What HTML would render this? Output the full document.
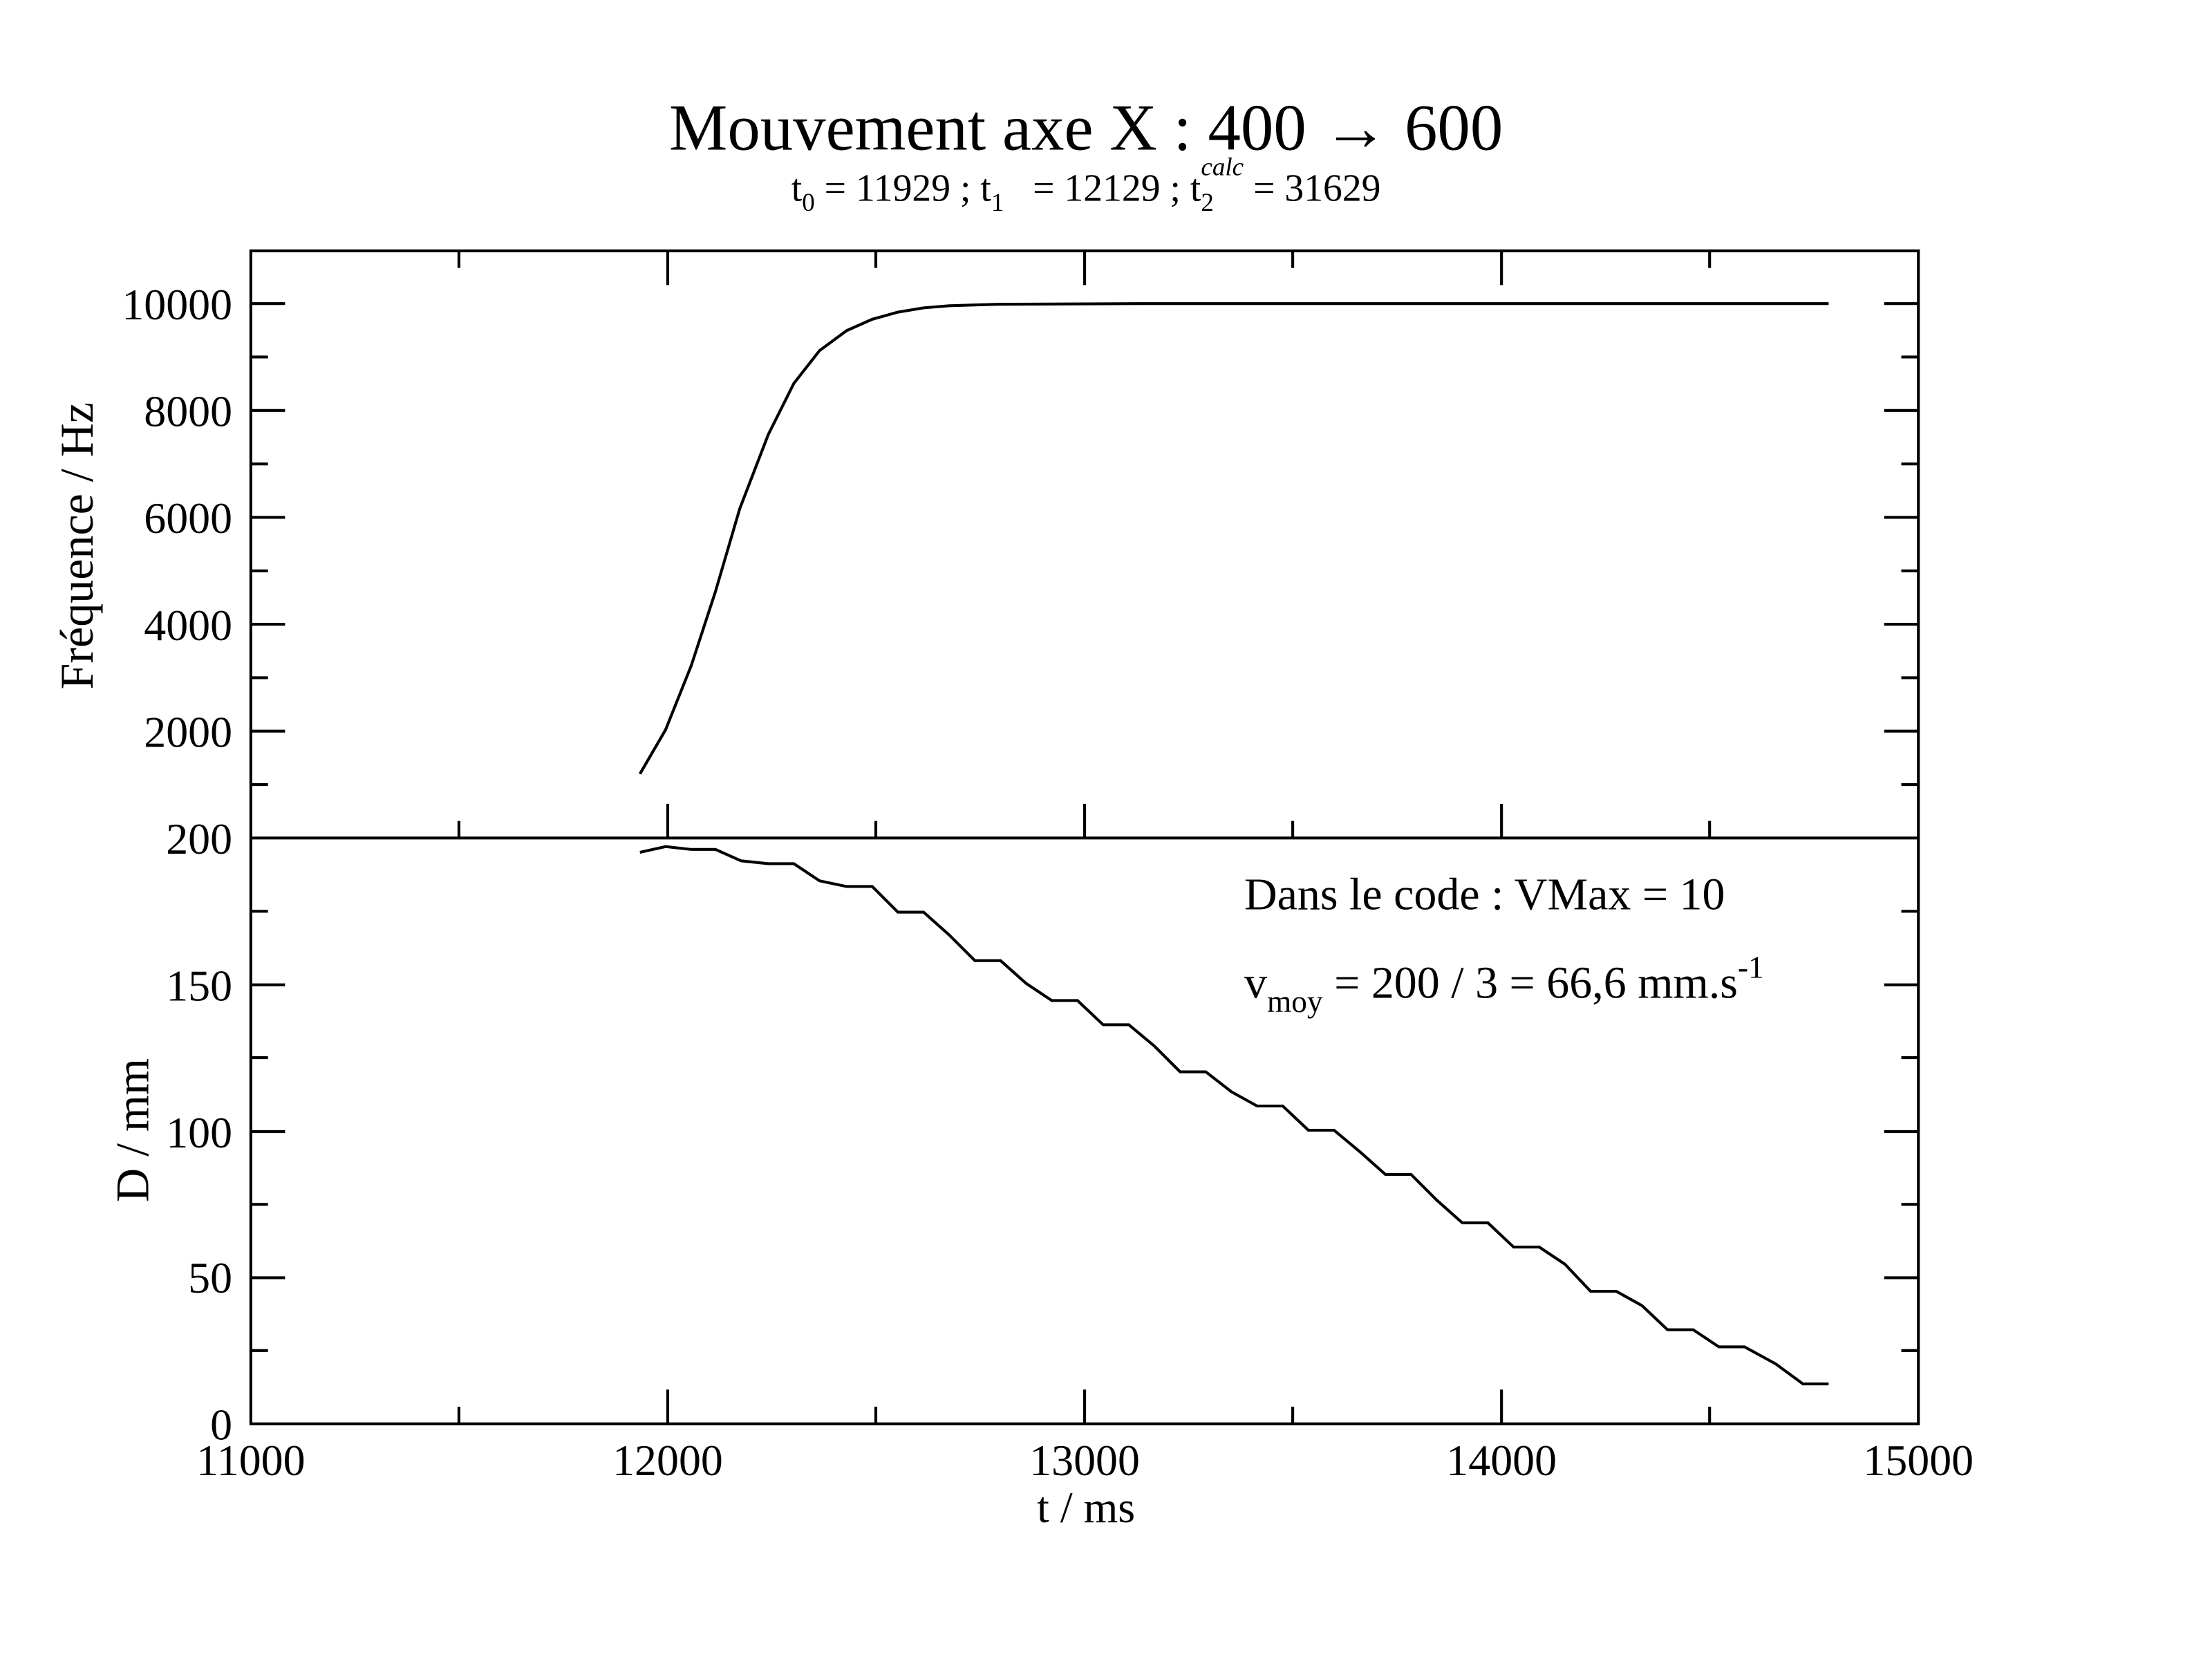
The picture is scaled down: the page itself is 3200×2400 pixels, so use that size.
<!DOCTYPE html>
<html><head><meta charset="utf-8"><style>body{margin:0;background:#fff}svg{display:block}text{font-family:"Liberation Serif",serif;fill:#000}</style></head>
<body>
<svg width="3200" height="2400" viewBox="0 0 1552 1164" xmlns="http://www.w3.org/2000/svg">
<rect width="1552" height="1164" fill="#fff"/>
<g stroke="#000" stroke-width="2" fill="none">
<rect x="176" y="176" width="1170" height="823"/>
<line x1="176" y1="588" x2="1346" y2="588"/>
<path d="M176 213h24M176 288h24M176 363h24M176 438h24M176 513h24M1346 213h-24M1346 288h-24M1346 363h-24M1346 438h-24M1346 513h-24
M176 250.5h12M176 325.5h12M176 400.5h12M176 475.5h12M176 550.5h12M1346 250.5h-12M1346 325.5h-12M1346 400.5h-12M1346 475.5h-12M1346 550.5h-12"/>
<path d="M468.5 176v24M761 176v24M1053.5 176v24M322 176v12M614.5 176v12M907 176v12M1199.5 176v12
M468.5 588v-24M761 588v-24M1053.5 588v-24M322 588v-12M614.5 588v-12M907 588v-12M1199.5 588v-12"/>
<path d="M176 691h24M176 794h24M176 896.5h24M1346 691h-24M1346 794h-24M1346 896.5h-24
M176 639.4h12M176 742.1h12M176 845h12M176 947.6h12M1346 639.4h-12M1346 742.1h-12M1346 845h-12M1346 947.6h-12"/>
<path d="M468.5 999v-24M761 999v-24M1053.5 999v-24M322 999v-12M614.5 999v-12M907 999v-12M1199.5 999v-12"/>
<polyline points="449,543 467,512 485,467 502,415 519,357 539,305 557,269 575,246 594,232 612,224 630,219 648,216 666,214.5 700,213.5 800,213 1283,213"/>
<polyline points="449,598 467,594 485,596 502,596 520,604 539,606 557,606 575,618 594,622 612,622 630,640 648,640 666,656 684,674 702,674 720,690 738,702 756,702 774,719 792,719 810,734 828,752 846,752 864,766 882,776 900,776 918,793 936,793 954,808 972,824 990,824 1008,842 1026,858 1044,858 1062,875 1080,875 1098,887 1116,906 1134,906 1152,916 1170,933 1188,933 1206,945 1224,945 1246,957 1265,971 1283,971"/>
</g>
<text x="762" y="105" font-size="46" text-anchor="middle">Mouvement axe X : 400 → 600</text>
<text x="762" y="141" font-size="27" text-anchor="middle" xml:space="preserve">t<tspan font-size="18" dy="7">0</tspan><tspan dy="-7"> = 11929 ; t</tspan><tspan font-size="18" dy="7">1</tspan><tspan dy="-7">   = 12129 ; t</tspan><tspan font-size="18" dy="7">2</tspan><tspan font-size="18" font-style="italic" dx="-9" dy="-25">calc</tspan><tspan dy="18"> = 31629</tspan></text>
<g font-size="31" text-anchor="end">
<text x="163" y="224">10000</text><text x="163" y="299">8000</text><text x="163" y="374">6000</text><text x="163" y="449">4000</text><text x="163" y="524">2000</text>
<text x="163" y="599">200</text><text x="163" y="702">150</text><text x="163" y="805">100</text><text x="163" y="907">50</text><text x="163" y="1010">0</text>
</g>
<g font-size="31" text-anchor="middle">
<text x="176" y="1035">11000</text><text x="468.5" y="1035">12000</text><text x="761" y="1035">13000</text><text x="1053.5" y="1035">14000</text><text x="1346" y="1035">15000</text>
<text x="762" y="1068">t / ms</text>
<text transform="translate(65 383) rotate(-90)" font-size="33">Fréquence / Hz</text>
<text transform="translate(104 793) rotate(-90)" font-size="33">D / mm</text>
</g>
<text x="873" y="638" font-size="32">Dans le code : VMax = 10</text>
<text x="873" y="700" font-size="32">v<tspan font-size="22" dy="10">moy</tspan><tspan dy="-10"> = 200 / 3 = 66,6 mm.s</tspan><tspan font-size="22" dy="-14">-1</tspan></text>
</svg>
</body></html>
